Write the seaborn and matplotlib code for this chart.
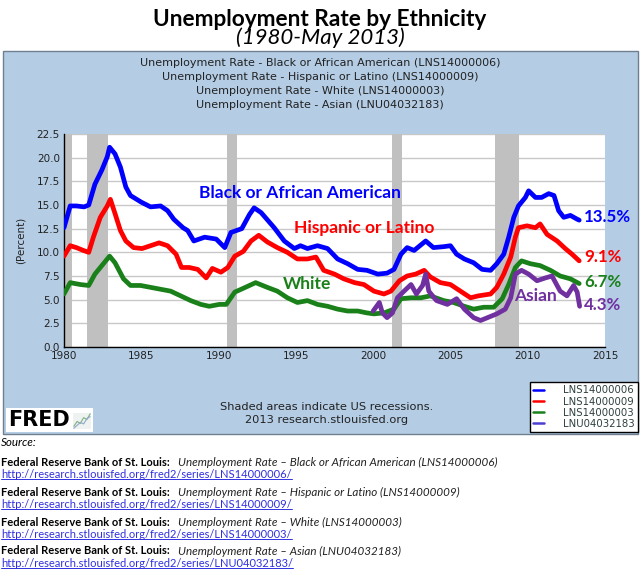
import matplotlib
matplotlib.use("Agg")
import matplotlib.pyplot as plt
import seaborn as sns
import pandas as pd
from matplotlib.patches import Rectangle
from matplotlib.lines import Line2D

# Values (decimal years, percent)
black_years = [1980.0, 1980.4, 1980.8, 1981.3, 1981.6, 1982.0, 1982.45, 1982.8, 1982.95, 1983.3,
               1983.65, 1984.0, 1984.3, 1985.0, 1985.6, 1986.25, 1986.7, 1987.1, 1987.7, 1988.0,
               1988.4, 1989.1, 1989.85, 1990.4, 1990.8, 1991.5, 1992.0, 1992.3, 1992.75, 1993.6,
               1994.25, 1994.9, 1995.3, 1995.75, 1996.4, 1997.05, 1997.7, 1998.35, 1999.0, 1999.6,
               2000.3, 2000.9, 2001.35, 2001.8, 2002.2, 2002.65, 2003.4, 2003.9, 2004.57, 2005.0,
               2005.4, 2005.9, 2006.5, 2007.05, 2007.6, 2008.0, 2008.45, 2008.77, 2009.1, 2009.4,
               2009.85, 2010.06, 2010.5, 2010.9, 2011.36, 2011.7, 2012.0, 2012.33, 2012.76, 2013.2,
               2013.33]
black_rate = [12.6, 14.9, 14.9, 14.8, 15.0, 17.2, 18.7, 20.1, 21.1, 20.4,
              19.0, 16.9, 16.0, 15.3, 14.8, 14.9, 14.4, 13.5, 12.6, 12.3,
              11.2, 11.6, 11.4, 10.5, 12.1, 12.5, 14.0, 14.7, 14.2, 12.6,
              11.2, 10.4, 10.7, 10.4, 10.7, 10.4, 9.3, 8.8, 8.2, 8.1,
              7.7, 7.8, 8.2, 9.8, 10.5, 10.2, 11.2, 10.5, 10.6, 10.7,
              9.8, 9.3, 8.9, 8.2, 8.1, 8.8, 9.8, 11.6, 13.7, 14.9,
              15.8, 16.5, 15.8, 15.8, 16.2, 16.0, 14.4, 13.7, 13.9, 13.5,
              13.4]

hisp_years = [1980.0, 1980.4, 1980.8, 1981.25, 1981.6, 1981.9, 1982.35, 1982.8, 1983.0, 1983.3,
              1983.65, 1984.0, 1984.5, 1985.05, 1985.6, 1986.15, 1986.7, 1987.25, 1987.6, 1988.1,
              1988.65, 1989.2, 1989.6, 1990.15, 1990.6, 1991.05, 1991.6, 1992.1, 1992.6, 1993.15,
              1993.8, 1994.45, 1995.1, 1995.75, 1996.3, 1996.8, 1997.5, 1998.1, 1998.8, 1999.4,
              2000.05, 2000.7, 2001.15, 2001.7, 2002.2, 2002.75, 2003.3, 2003.7, 2004.35, 2005.0,
              2005.65, 2006.3, 2006.8, 2007.6, 2008.0, 2008.45, 2008.9, 2009.2, 2009.4, 2009.95,
              2010.5, 2010.8, 2011.25, 2011.9, 2012.43, 2012.87, 2013.33]
hisp_rate = [9.6, 10.7, 10.5, 10.2, 10.0, 11.6, 13.7, 14.9, 15.6, 14.1,
             12.3, 11.2, 10.5, 10.4, 10.7, 11.0, 10.7, 9.8, 8.4, 8.4,
             8.2, 7.3, 8.3, 7.9, 8.4, 9.6, 10.1, 11.2, 11.8, 11.1,
             10.5, 10.0, 9.3, 9.3, 9.5, 8.1, 7.7, 7.2, 6.8, 6.6,
             5.9, 5.6, 5.9, 7.0, 7.5, 7.7, 8.1, 7.4, 6.8, 6.6,
             5.9, 5.2, 5.4, 5.6, 6.3, 7.7, 9.5, 11.6, 12.6, 12.8,
             12.6, 13.0, 11.9, 11.2, 10.4, 9.8, 9.1]

white_years = [1980.0, 1980.4, 1981.05, 1981.6, 1982.0, 1982.55, 1982.95, 1983.3, 1983.85, 1984.3,
               1984.95, 1985.6, 1986.25, 1986.9, 1987.55, 1988.2, 1988.85, 1989.4, 1990.05, 1990.5,
               1991.05, 1991.6, 1992.4, 1993.15, 1993.8, 1994.45, 1995.1, 1995.75, 1996.4, 1997.05,
               1997.7, 1998.35, 1999.0, 1999.6, 2000.05, 2000.7, 2001.35, 2001.8, 2002.45, 2003.1,
               2003.7, 2004.57, 2005.2, 2005.9, 2006.5, 2007.15, 2007.8, 2008.35, 2008.77, 2009.2,
               2009.6, 2010.17, 2010.8, 2011.47, 2012.1, 2012.76, 2013.33]
white_rate = [5.6, 6.8, 6.6, 6.5, 7.7, 8.8, 9.6, 8.9, 7.2, 6.5,
              6.5, 6.3, 6.1, 5.9, 5.4, 4.9, 4.5, 4.3, 4.5, 4.5,
              5.8, 6.2, 6.8, 6.3, 5.9, 5.2, 4.7, 4.9, 4.5, 4.3,
              4.0, 3.8, 3.8, 3.6, 3.5, 3.6, 4.0, 5.1, 5.2, 5.2,
              5.4, 4.9, 4.7, 4.3, 4.0, 4.2, 4.2, 5.1, 6.6, 8.4,
              9.1, 8.8, 8.6, 8.1, 7.5, 7.2, 6.7]

asian_years = [2000.0, 2000.4, 2000.6, 2000.9, 2001.25, 2001.57, 2002.0, 2002.45, 2002.8, 2003.2,
               2003.4, 2003.6, 2004.1, 2004.8, 2005.4, 2005.9, 2006.5, 2006.95, 2007.4, 2008.0,
               2008.55, 2008.9, 2009.2, 2009.6, 2010.06, 2010.6, 2011.15, 2011.57, 2012.1, 2012.54,
               2012.97, 2013.2, 2013.36]
asian_rate = [3.8, 4.7, 3.6, 3.1, 3.6, 5.2, 5.9, 6.6, 5.6, 6.5,
              7.7, 5.9, 4.9, 4.5, 5.1, 4.0, 3.1, 2.8, 3.1, 3.5,
              4.0, 5.2, 7.7, 8.1, 7.7, 7.0, 7.3, 7.5, 5.9, 5.4,
              6.5, 5.8, 4.3]

series_ids = ["LNS14000006", "LNS14000009", "LNS14000003", "LNU04032183"]
series_names = ["Black or African American", "Hispanic or Latino", "White", "Asian"]
last_labels = ["13.5%", "9.1%", "6.7%", "4.3%"]
line_colors = ["#0000ff", "#ff0000", "#1a801a", "#7030a0"]

recessions = [(1980.0, 1980.5), (1981.5, 1982.85), (1990.55, 1991.2), (2001.2, 2001.85), (2007.9, 2009.45)]

frames = []
for sid, yrs, vals in zip(series_ids,
                          [black_years, hisp_years, white_years, asian_years],
                          [black_rate, hisp_rate, white_rate, asian_rate]):
    frames.append(pd.DataFrame({"year": yrs, "rate": vals, "series": sid}))
df = pd.concat(frames, ignore_index=True)

sns.set_style("white")
plt.rcParams['font.family'] = ['DejaVu Sans']
plt.rcParams['text.color'] = 'black'
plt.rcParams['axes.labelcolor'] = '#222222'
plt.rcParams['xtick.color'] = 'black'
plt.rcParams['ytick.color'] = 'black'

W, H = 640, 570
fig = plt.figure(figsize=(6.4, 5.7), dpi=100)

def fx(px):
    return px / W

def fy(py):
    return 1 - py / H

# blue FRED panel
fig.patches.append(Rectangle((fx(3), fy(434)), fx(635), 383 / H, transform=fig.transFigure,
                             facecolor="#b4cde5", edgecolor="#6f7f8f", lw=1, zorder=0))

ax = fig.add_axes([fx(64), fy(347), fx(605) - fx(64), (347 - 134) / H])
ax.set_zorder(2)
ax.set_facecolor("white")

for s, e in recessions:
    ax.axvspan(s, e, color="#c0c0c0", lw=0, zorder=1)

sns.lineplot(data=df, x="year", y="rate", hue="series", hue_order=series_ids,
             palette=dict(zip(series_ids, line_colors)), linewidth=3.4,
             estimator=None, sort=False, legend=False, ax=ax, zorder=3)

ax.set_xlim(1980, 2015)
ax.set_ylim(0, 22.5)
ax.set_xticks(range(1980, 2016, 5))
ax.set_yticks([i * 2.5 for i in range(10)])
ax.set_yticklabels([f"{i * 2.5:.1f}" for i in range(10)])
ax.yaxis.grid(True, color="#c8c8c8", lw=1)
ax.set_axisbelow(True)
ax.tick_params(direction="in", length=5, width=1, color="black", labelsize=7.5, pad=3,
               labelcolor="#222222")
for side in ["top", "right"]:
    ax.spines[side].set_visible(False)
for side in ["left", "bottom"]:
    ax.spines[side].set_color("black")
    ax.spines[side].set_linewidth(1)
ax.set_xlabel("")
ax.set_ylabel("(Percent)", fontsize=7.5, labelpad=8)

# series annotations
cal = ["Lato", "DejaVu Sans"]
ann_pos = [(1995.27, 16.3), (1999.44, 12.6), (1995.7, 6.65), (2010.53, 5.4)]
for (x, y), name, c in zip(ann_pos, series_names, line_colors):
    ax.text(x, y, name, color=c, fontsize=12.5, fontweight="bold", family=cal,
            ha="center", va="center", zorder=5)
end_y = [13.7, 9.55, 6.9, 4.43]
for y, lab, c in zip(end_y, last_labels, line_colors):
    ax.text(2013.63, y, lab, color=c, fontsize=12.2, fontweight="bold", family=cal,
            ha="left", va="center", zorder=5, clip_on=False)

# header lines
for i, (name, sid) in enumerate(zip(series_names, series_ids)):
    fig.text(0.5, fy(63 + i * 14), f"Unemployment Rate - {name} ({sid})",
             ha="center", va="center", fontsize=8, color="#222222")

# legend
handles = [Line2D([0], [0], color=c, lw=1.8) for c in ["#0000ff", "#ff0000", "#1a801a", "#4a3fd0"]]
leg = fig.legend(handles, series_ids, loc="lower right", bbox_to_anchor=(fx(638), fy(432)),
                 fontsize=7.3, frameon=True, fancybox=False, framealpha=1, edgecolor="black",
                 handlelength=1.1, handletextpad=1.9, borderpad=0.3, labelspacing=0.12,
                 borderaxespad=0)
for t in leg.get_texts():
    t.set_color("#2f3f3f")
leg.get_frame().set_linewidth(1)
leg.set_zorder(5)

fig.text(fx(327), fy(407), "Shaded areas indicate US recessions.", ha="center", va="center",
         fontsize=8.2, color="#222222")
fig.text(fx(327), fy(420), "2013 research.stlouisfed.org", ha="center", va="center",
         fontsize=8.2, color="#222222")

# FRED logo
fig.patches.append(Rectangle((fx(6), fy(432)), fx(87), 24 / H, transform=fig.transFigure,
                             facecolor="white", edgecolor="none", zorder=1))
fig.text(fx(8), fy(420.5), "FRED", ha="left", va="center", fontsize=15, fontweight="heavy",
         color="black", family="DejaVu Sans", zorder=3)
icon_a = [1, 2, 1.6, 2.8, 2.4, 3.6]
icon_b = [0.6, 1.2, 1.8, 1.5, 2.6, 3.0]
iax = fig.add_axes([fx(73), fy(429), fx(18), 16 / H])
iax.set_zorder(3)
iax.plot(icon_a, color="#7fb27f", lw=0.8)
iax.plot(icon_b, color="#8fa8cf", lw=0.8)
iax.set_facecolor("#eef2f0")
iax.set_xticks([])
iax.set_yticks([])
for s in iax.spines.values():
    s.set_visible(False)

# title
fig.text(0.5, fy(19), "Unemployment Rate by Ethnicity", ha="center", va="center",
         fontsize=16.3, fontweight="bold", family=cal, color="black")
fig.text(0.5, fy(38), "(1980-May 2013)", ha="center", va="center",
         fontsize=16, style="italic", family=cal, color="black")

# source block
fig.text(fx(1), fy(443), "Source:", ha="left", va="center", fontsize=8.4, style="italic", family=cal)
src_y = [462, 492, 522, 551]
urls = []
for y, name, sid in zip(src_y, series_names, series_ids):
    fig.text(fx(1), fy(y), "Federal Reserve Bank of St. Louis:", ha="left", va="center",
             fontsize=8, fontweight="bold", family=cal)
    fig.text(fx(178), fy(y), f"Unemployment Rate \u2013 {name} ({sid})", ha="left", va="center",
             fontsize=8.4, style="italic", family=cal, color="#222222")
    u = fig.text(fx(1), fy(y + 12.5), f"http://research.stlouisfed.org/fred2/series/{sid}/",
                 ha="left", va="center", fontsize=8, family=cal, color="#3030e0")
    urls.append(u)

fig.canvas.draw()
inv = fig.transFigure.inverted()
for u in urls:
    bb = u.get_window_extent()
    (x0, y0), (x1, y1) = inv.transform([(bb.x0, bb.y0), (bb.x1, bb.y1)])
    fig.add_artist(Line2D([x0, x1], [y0 + 0.001, y0 + 0.001], transform=fig.transFigure,
                          color="#3030e0", lw=0.7))

fig.savefig("out.png", dpi=100)
